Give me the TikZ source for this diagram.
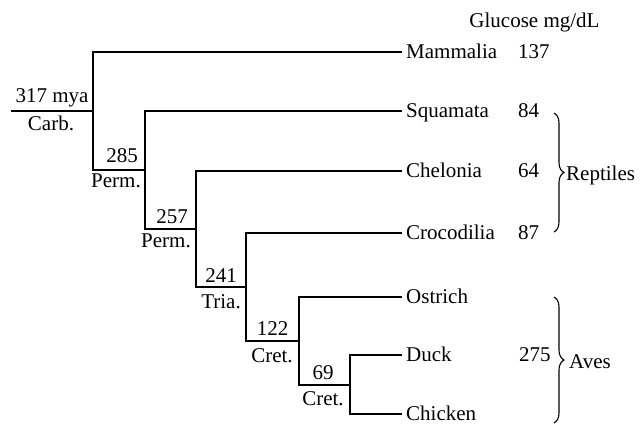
\documentclass[tikz,border=0pt]{standalone}
\usepackage{fontspec}
\setmainfont{Liberation Serif}
\usetikzlibrary{decorations.pathreplacing}
\begin{document}
\begin{tikzpicture}[x=1pt,y=-1pt,
  every node/.style={font=\fontsize{21}{24}\selectfont, inner sep=0pt},
  branch/.style={line width=1.2pt, black},
  taxon/.style={anchor=west, text height=13pt, text depth=0pt, inner xsep=4pt, inner ysep=0pt},
  value/.style={anchor=west, text height=13pt, text depth=0pt},
  numlab/.style={anchor=base},
  bracket/.style={line width=1.1pt, decorate, decoration={brace, amplitude=10pt}}
]
\useasboundingbox (0,0) rectangle (640,424);
\clip (0,0) rectangle (640,424);

% internal vertices
\coordinate (start) at (11,111);
\coordinate (r)  at (93,111);
\coordinate (n285) at (145,170);
\coordinate (n257) at (196,229);
\coordinate (n241) at (246,287);
\coordinate (n122) at (299,341);
\coordinate (n69)  at (350,385);

% taxa
\node[taxon] (mam) at (402,52)  {Mammalia};
\node[taxon] (squ) at (402,111) {Squamata};
\node[taxon] (che) at (402,171) {Chelonia};
\node[taxon] (cro) at (402,233) {Crocodilia};
\node[taxon] (ost) at (402,297) {Ostrich};
\node[taxon] (duc) at (402,355) {Duck};
\node[taxon] (chi) at (402,414) {Chicken};

% branches
\draw[branch] (start) -- (r);
\draw[branch] (mam.west) -| (r) |- (n285);
\draw[branch] (squ.west) -| (n285) |- (n257);
\draw[branch] (che.west) -| (n257) |- (n241);
\draw[branch] (cro.west) -| (n241) |- (n122);
\draw[branch] (ost.west) -| (n122) |- (n69);
\draw[branch] (duc.west) -| (n69) |- (chi.west);

% node labels
\node[numlab] (l317) at (52,102)  {317 mya};
\node[numlab] (lcarb) at (51,130) {Carb.};
\node[numlab] (l285) at (122,162) {285};
\node[numlab] (lp1)  at (116,187) {Perm.};
\node[numlab] (l257) at (172,223) {257};
\node[numlab] (lp2)  at (166,247) {Perm.};
\node[numlab] (l241) at (221,282) {241};
\node[numlab] (lt)   at (221,308) {Tria.};
\node[numlab] (l122) at (272.5,335) {122};
\node[numlab] (lc1)  at (272,362) {Cret.};
\node[numlab] (l69)  at (323,379) {69};
\node[numlab] (lc2)  at (323,405) {Cret.};

% glucose
\node[numlab] (gh) at (534.5,27) {Glucose mg/dL};
\node[value] (g1) at (518,52)  {137};
\node[value] (g2) at (518,111) {84};
\node[value] (g3) at (518,171) {64};
\node[value] (g4) at (518,233) {87};
\node[value] (g5) at (519,355) {275};

% braces
\coordinate (rt) at (554,113);
\coordinate (rb) at (554,232);
\coordinate (at) at (554,297);
\coordinate (ab) at (554,423);
\draw[bracket] (rt) -- (rb);
\draw[bracket] (at) -- (ab);
\node[anchor=base west] (rep) at (566,180) {Reptiles};
\node[anchor=base west] (ave) at (569,368) {Aves};
\end{tikzpicture}
\end{document}
